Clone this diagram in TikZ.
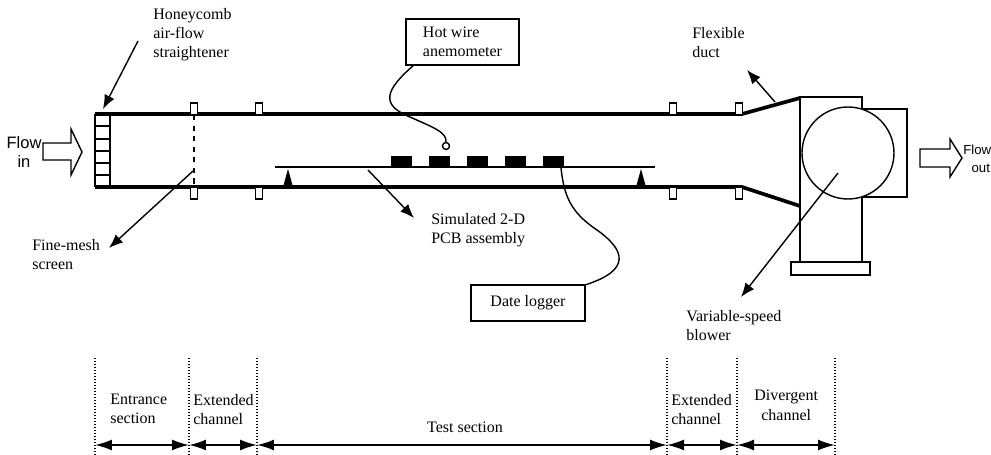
\documentclass[tikz,border=0pt]{standalone}
\usepackage{fontspec}
\setmainfont{Liberation Serif}
\newfontfamily\flowfont{Liberation Sans}
\usetikzlibrary{arrows.meta, calc}
\begin{document}
\begin{tikzpicture}[
    x=0.02cm, y=-0.02cm,
    >={Latex[width=2.2mm,length=2.8mm]},
    every node/.style={font=\fontsize{9.1}{10.9}\selectfont, inner sep=0pt, align=left},
    wall/.style={black, line width=2.1pt},
    thinline/.style={black, line width=0.8pt},
    pointer/.style={black, line width=0.8pt, ->},
    span/.style={black, line width=1.0pt, {Latex[width=2.2mm,length=3.4mm]}-{Latex[width=2.2mm,length=3.4mm]}},
    secline/.style={black, line width=0.7pt, densely dotted},
    flange/.style={draw, fill=white, line width=0.8pt},
    cable/.style={black, line width=0.8pt},
    box/.style={draw, line width=0.8pt, minimum height=0.92cm},
    flowlabel/.style={font=\flowfont\fontsize{9.4}{10.4}\selectfont, align=center},
]
\useasboundingbox (0,0) rectangle (991,455);
% duct walls
\draw[wall] (95,114) -- (742,114) -- (800,98);
\draw[wall] (95,187) -- (742,187) -- (800,206);
% honeycomb straightener
\draw[thinline] (95,114) -- (95,187);
\draw[thinline] (110,114) -- (110,187);
\foreach \y in {126,139,151,163,175}
    \draw[thinline] (95,\y) -- (110,\y);
% flanges
\foreach \x in {194,259,673,739} {
    \draw[flange] (\x-3.5,103) rectangle (\x+3.5,115);
    \draw[flange] (\x-3.5,187) rectangle (\x+3.5,199);
}
% fine-mesh screen
\draw[black, line width=0.8pt, dashed] (194,115) -- (194,187);
% board, supports and chips
\draw[black, line width=1.6pt] (275,167) -- (655,167);
\foreach \x in {288,641}
    \fill (\x,169) -- (\x+5,187) -- (\x-5,187) -- cycle;
\foreach \x in {391,429,467,505,543}
    \fill (\x,156) rectangle (\x+21,167);
% blower
\draw[thinline] (862,109) -- (907,109) -- (907,197) -- (862,197);
\draw[thinline] (862,109) -- (862,97) -- (800,97) -- (800,262);
\draw[thinline] (862,197) -- (862,262);
\draw[thinline, fill=white] (848,153) circle (46);
\draw[flange] (791,262) rectangle (870,275);
% flow arrows
\draw[thinline] (43,143) -- (71,143) -- (71,129) -- (82,152) -- (71,175) -- (71,160) -- (43,160) -- cycle;
\draw[thinline] (920,149) -- (950,149) -- (950,139) -- (962,158) -- (950,177) -- (950,167) -- (920,167) -- cycle;
\node[flowlabel] (flowin) at (24,152) {Flow\\in};
\node[flowlabel, font=\flowfont\fontsize{7.5}{10.4}\selectfont, anchor=west] (flowout) at (963,159) {Flow\\\hspace*{4pt}out};
% instruments
\node[box, minimum width=2.26cm] (hotwire) at (462.5,42) {Hot wire\\anemometer};
\node[box, minimum width=2.28cm, minimum height=0.72cm] (logger) at (528,303) {Date logger};
\node[circle, draw, line width=0.8pt, minimum size=4pt] (probe) at (446,146) {};
\coordinate (chipfive) at (561,168);
\draw[cable] (414,65) .. controls (385,90) and (380,105) .. (410,117)
    .. controls (432,127) and (447,132) .. (probe.north);
\draw[cable] (chipfive) .. controls (564,195) and (570,212) .. (597,230)
    .. controls (625,250) and (632,270) .. (585,285);
% callouts
\node[anchor=north west] (honeycomb) at (153,8) {Honeycomb\\air-flow\\straightener};
\node[anchor=north west] (mesh) at (32,239) {Fine-mesh\\screen};
\node[anchor=north west] (pcb) at (431,213) {Simulated 2-D\\PCB assembly};
\node[anchor=north west] (flexible) at (692,27) {Flexible\\duct};
\node[anchor=north west] (variable) at (686,310) {Variable-speed\\blower};
\coordinate (honeyfrom) at (138,41);
\coordinate (honeyto) at (103,109);
\coordinate (meshfrom) at (193,171);
\coordinate (meshto) at (109,248);
\coordinate (pcbfrom) at (368,170);
\coordinate (pcbto) at (414,218);
\coordinate (flexfrom) at (775,102);
\coordinate (flexto) at (747,70);
\coordinate (blowerfrom) at (838,173);
\coordinate (blowerto) at (741,297);
\draw[pointer] (honeyfrom) -- (honeyto);
\draw[pointer] (meshfrom) -- (meshto);
\draw[pointer] (pcbfrom) -- (pcbto);
\draw[pointer] (flexfrom) -- (flexto);
\draw[pointer] (blowerfrom) -- (blowerto);
% section marks
\foreach \n/\x in {a/95,b/189,c/257,d/667,e/737,f/835} {
    \coordinate (sec\n) at (\x,445);
    \draw[secline] (\x,358) -- (\x,454);
}
\draw[span] (seca) -- (secb);
\draw[span] (secb) -- (secc);
\draw[span] (secc) -- (secd);
\draw[span] (secd) -- (sece);
\draw[span] (sece) -- (secf);
\node[anchor=north west] (entrance) at (110,394) {Entrance\\section};
\node[anchor=north west] (extleft) at (193,394) {Extended\\channel};
\node (test) at (465,427) {Test section};
\node[anchor=north west] (extright) at (671,394) {Extended\\channel};
\node[anchor=north west] (divergent) at (754,390) {Divergent\\\hspace*{4pt}channel};
\end{tikzpicture}
\end{document}
